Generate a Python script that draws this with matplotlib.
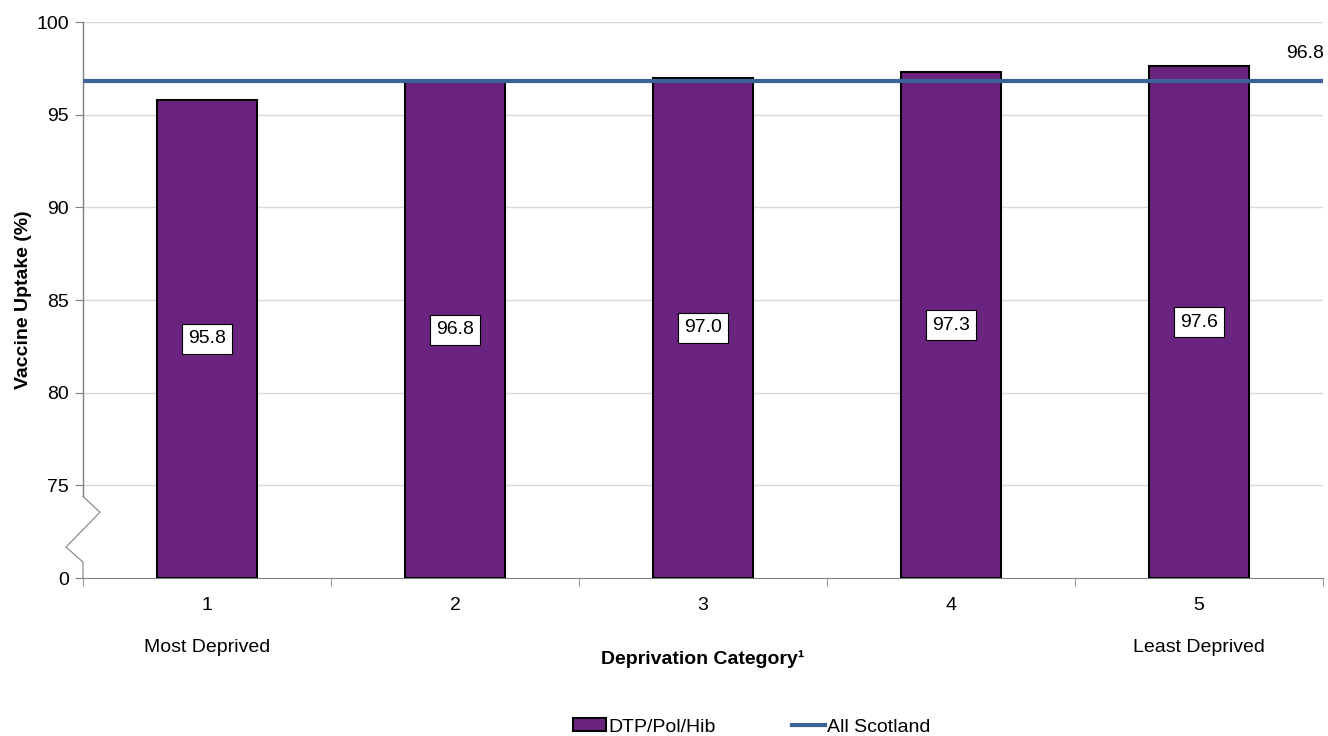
import matplotlib
matplotlib.use("Agg")
import matplotlib.pyplot as plt
from matplotlib.lines import Line2D
from matplotlib.patches import Patch

plt.rcParams['font.family'] = ['Liberation Sans', 'DejaVu Sans']

categories = ['1', '2', '3', '4', '5']
uptake = [95.8, 96.8, 97.0, 97.3, 97.6]
scotland = 96.8
sub_labels = {0: 'Most Deprived', 4: 'Least Deprived'}
tick_values = [0, 75, 80, 85, 90, 95, 100]

# broken axis: 0 is drawn where 70 would be
BASE = 70.0
FS = 14


def to_axis(v):
    return BASE if v == 0 else v


fig = plt.figure(figsize=(13.28, 7.36), dpi=100)
ax = fig.add_axes([83 / 1328, 1 - 578 / 736, 1240 / 1328, 556 / 736])

x = list(range(len(categories)))
bars = ax.bar(x, [v - BASE for v in uptake], bottom=BASE, width=0.4,
              color='#6b2380', edgecolor='black', linewidth=1.5, zorder=3)

for xi, v in zip(x, uptake):
    ax.text(xi, (v + BASE) / 2, f'{v:.1f}', ha='center', va='center', fontsize=FS,
            zorder=5, bbox=dict(boxstyle='square,pad=0.33', fc='white', ec='black', lw=0.8))

ax.axhline(scotland, color='#3b6396', lw=3, zorder=4)
ax.annotate(f'{scotland:.1f}', xy=(0.97, scotland), xycoords=('axes fraction', 'data'),
            xytext=(0, 20), textcoords='offset points', ha='left', va='center',
            fontsize=FS, annotation_clip=False)

ax.set_xlim(-0.5, len(categories) - 0.5)
ax.set_ylim(BASE, 100)
ax.set_yticks([to_axis(v) for v in tick_values])
ax.set_yticklabels([str(v) for v in tick_values], fontsize=FS)
for v in tick_values[1:]:
    ax.axhline(v, color='#d9d9d9', lw=1, zorder=0)

ax.set_xticks(x)
ax.set_xticklabels(categories, fontsize=FS)
ax.tick_params(axis='x', length=0, pad=14)
ax.set_xticks([i - 0.5 for i in range(len(categories) + 1)], minor=True)
ax.tick_params(axis='x', which='minor', length=6, color='#808080')
ax.tick_params(axis='y', length=6, color='#808080', pad=4)

for s in ['top', 'right', 'left']:
    ax.spines[s].set_visible(False)
ax.spines['bottom'].set_color('#808080')

# left axis with break mark
yt = ax.get_yaxis_transform()
ax.add_line(Line2D([0, 0], [74.4, 100], transform=yt, color='#808080', lw=1, clip_on=False))
ax.add_line(Line2D([0, 0.0137, -0.0137, 0, 0], [74.4, 73.55, 71.67, 70.86, BASE],
                   transform=yt, color='#808080', lw=0.8, clip_on=False))

for i, lab in sub_labels.items():
    ax.text(i, -0.125, lab, transform=ax.get_xaxis_transform(), ha='center', va='center', fontsize=FS)

ax.set_xlabel('Deprivation Category¹', fontsize=FS, fontweight='bold', labelpad=26)
ax.set_ylabel('Vaccine Uptake (%)', fontsize=FS, fontweight='bold', labelpad=3)

handles = [Patch(facecolor='#6b2380', edgecolor='black', lw=1.5, label='DTP/Pol/Hib'),
           Line2D([], [], color='#3b6396', lw=3, label='All Scotland')]
fig.legend(handles=handles, loc='center', bbox_to_anchor=(0.566, 1 - 727 / 736), ncol=2,
           frameon=False, fontsize=FS, handlelength=1.7, handletextpad=0.1,
           columnspacing=3.9, handleheight=0.6)

fig.savefig('out.png', dpi=100)
